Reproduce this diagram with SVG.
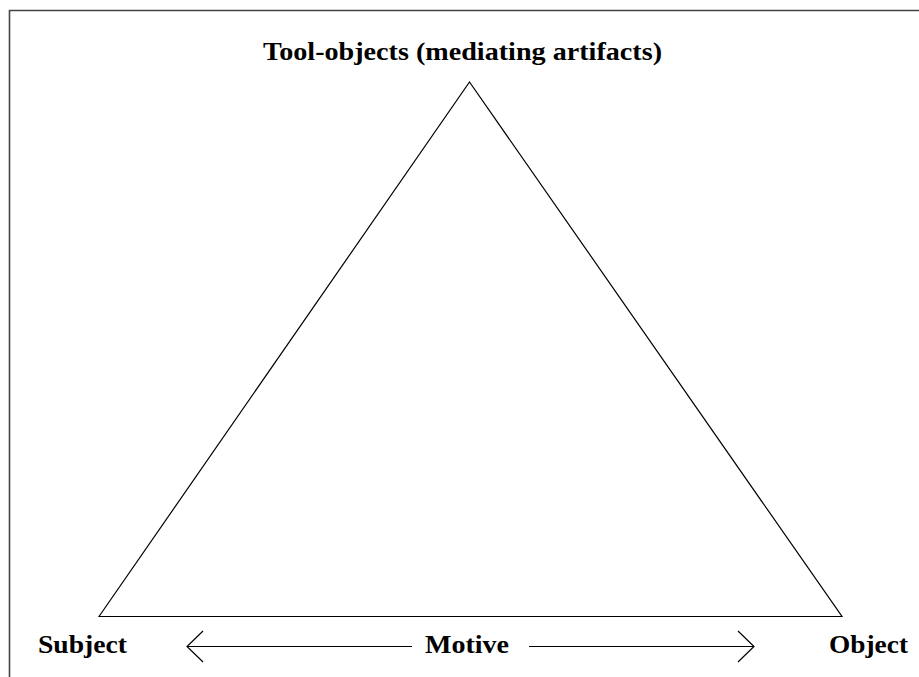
<svg xmlns="http://www.w3.org/2000/svg" width="919" height="677" viewBox="0 0 919 677">
<style>
.lbl{font-family:"Liberation Serif","Times New Roman",serif;font-weight:bold;font-size:26px;fill:#000}
.ln{fill:none;stroke:#000;stroke-width:1.2}
</style>
<rect width="919" height="677" fill="#fff"/>
<path d="M9.5 677 V10.5 H919" fill="none" stroke="#444" stroke-width="1.6"/>
<g id="triangle">
<path class="ln" d="M99 616.5 L469.5 82 L842 616.5 Z"/>
</g>
<g id="tool"><text class="lbl" x="263" y="60" textLength="399" lengthAdjust="spacingAndGlyphs">Tool-objects (mediating artifacts)</text></g>
<g id="subject"><text class="lbl" x="38" y="653" textLength="89" lengthAdjust="spacingAndGlyphs">Subject</text></g>
<g id="motive"><text class="lbl" x="425" y="653" textLength="84" lengthAdjust="spacingAndGlyphs">Motive</text></g>
<g id="object"><text class="lbl" x="829" y="653" textLength="79" lengthAdjust="spacingAndGlyphs">Object</text></g>
<g id="connectors">
<path class="ln" d="M412 646.5 H187 M203 631 L187 646.5 L203 662"/>
<path class="ln" d="M529 646.5 H754 M738 631 L754 646.5 L738 662"/>
</g>
</svg>
